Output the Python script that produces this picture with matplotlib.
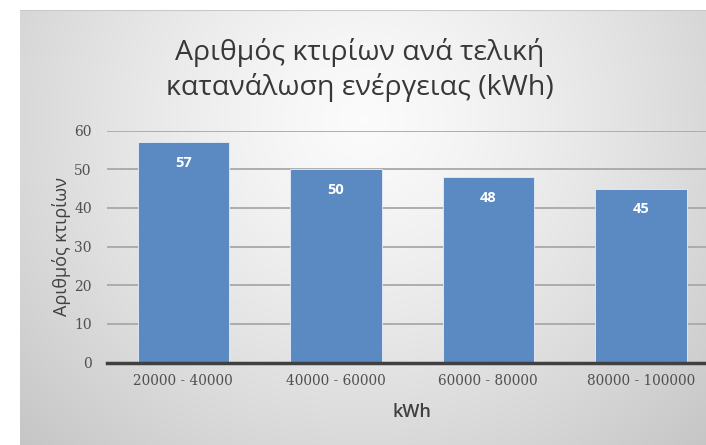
import numpy as np
import matplotlib
matplotlib.use("Agg")
import matplotlib.pyplot as plt

categories = ["20000 - 40000", "40000 - 60000", "60000 - 80000", "80000 - 100000"]
values = [57, 50, 48, 45]
yticks = [0, 10, 20, 30, 40, 50, 60]
title = "Αριθμός κτιρίων ανά τελική\nκατανάλωση ενέργειας (kWh)"
xlabel = "kWh"
ylabel = "Αριθμός κτιρίων"

W, H = 706, 445
fig = plt.figure(figsize=(W / 100, H / 100), dpi=100)
fig.patch.set_facecolor("white")

# gradient panel
bg = fig.add_axes([20 / W, 0, (W - 20) / W, (H - 10) / H])
bg.set_axis_off()
ny, nx = 200, 300
yy, xx = np.mgrid[0:ny, 0:nx]
cx, cy = nx * 0.5, ny * 0.25
r = np.sqrt(((xx - cx) / (nx * 0.6)) ** 2 + ((yy - cy) / (ny * 0.9)) ** 2)
v = 0.985 - 0.17 * np.clip(r, 0, 1.2) ** 1.3
img = np.dstack([v, v, v])
bg.imshow(img, aspect="auto", extent=[0, 1, 0, 1], origin="upper")
bg.set_xlim(0, 1)
bg.set_ylim(0, 1)
bg.axhline(1.0, color="#c8c8c8", lw=1.5)

# main axes (pixel layout); plot area extends past the right edge (cropped)
left, right = 107, 717
y0, y60 = 362.5, 130.5
ax = fig.add_axes([left / W, (H - y0) / H, (right - left) / W, (y0 - y60) / H])
ax.set_facecolor("none")
ax.set_xlim(-0.5, 3.5)
ax.set_ylim(0, 60)

x = np.arange(len(categories))
ax.bar(x, values, width=0.6, color="#5b89c2", edgecolor="#e8eef7", linewidth=0.6, zorder=3)
for xi, v_ in zip(x, values):
    ax.annotate(str(v_), (xi, v_), xytext=(0, -20), textcoords="offset points",
                ha="center", va="bottom", color="white", fontsize=10.5, fontweight="bold",
                family="Open Sans", zorder=4)

ax.set_yticks(yticks)
ax.set_xticks(x)
ax.set_xticklabels(categories, family="DejaVu Serif", fontsize=9.8, color="#505050")
ax.set_yticklabels([str(t) for t in yticks], family="DejaVu Serif", fontsize=10, color="#505050")
ax.tick_params(axis="both", length=0)
ax.tick_params(axis="x", pad=8)
ax.tick_params(axis="y", pad=11)
for t in yticks[1:]:
    ax.axhline(t, color="#a8a8a8", lw=1.3, zorder=1)
for s in ["top", "right", "left"]:
    ax.spines[s].set_visible(False)
ax.spines["bottom"].set_color("#404040")
ax.spines["bottom"].set_linewidth(2.5)
ax.spines["bottom"].set_zorder(5)

ax.set_xlabel(xlabel, family="Open Sans", fontsize=13, fontweight="semibold", color="#404040", labelpad=11)
ax.set_ylabel(ylabel, family="Open Sans", fontsize=13, color="#404040")
ax.yaxis.set_label_coords((71 - left) / (right - left), 0.5)

fig.text(360 / W, 1 - 70 / H, title, ha="center", va="center", family="Open Sans",
         fontsize=20.5, color="#383838", linespacing=1.3)

fig.savefig("out.png", dpi=100)
